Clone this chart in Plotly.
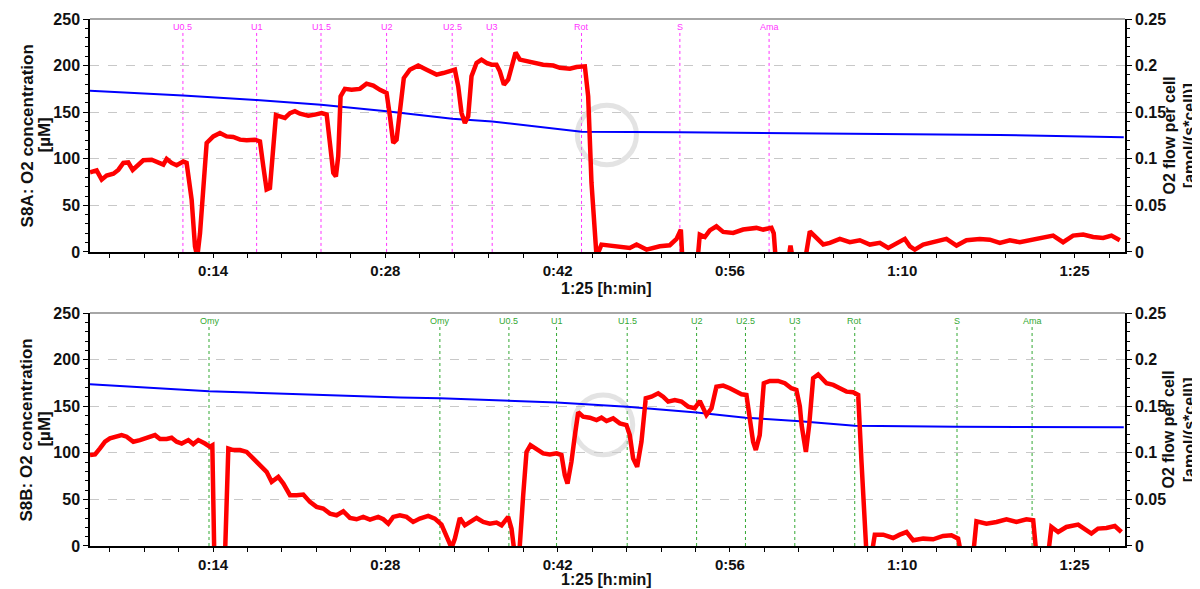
import plotly.graph_objects as go

# ---------------- data ----------------
# time in minutes
TOP_RED_T = [4.0, 4.54, 4.95, 5.35, 5.9, 6.3, 6.71, 7.11, 7.47, 7.93, 8.33, 9.01, 9.55, 9.96, 10.23, 10.63,
             11.04, 11.58, 11.85, 12.26, 12.53, 12.72, 12.94, 13.26, 13.48, 14.02, 14.56, 15.1, 15.64, 16.19,
             16.73, 17.4, 17.81, 18.08, 18.35, 18.62, 18.89, 19.11, 19.43, 19.84, 20.25, 20.65, 21.06, 21.74,
             22.28, 22.82, 23.23, 23.5, 23.77, 23.98, 24.17, 24.36, 24.71, 25.26, 25.93, 26.47, 27.02, 27.56,
             28.1, 28.37, 28.64, 28.91, 29.18, 29.5, 29.99, 30.67, 31.35, 32.16, 32.7, 33.38, 33.65, 33.92,
             34.19, 34.46, 34.73, 35.0, 35.41, 35.81, 36.22, 36.63, 37.03, 37.3, 37.63, 37.98, 38.39, 38.58,
             38.93, 39.47, 40.01, 40.82, 41.64, 42.18, 42.99, 43.53, 44.21, 44.48, 44.75, 45.02, 45.16, 45.56,
             46.78, 47.86, 48.41, 49.22, 50.3, 51.11, 51.66, 52.01, 52.14, 53.36, 53.55, 53.96, 54.36, 54.9,
             55.45, 56.26, 57.07, 58.15, 58.7, 59.37, 59.56, 59.73, 60.73, 60.92, 61.13, 62.09, 62.49, 63.03,
             63.58, 64.12, 64.93, 65.74, 66.55, 67.37, 68.18, 68.86, 69.53, 70.21, 70.62, 71.02, 71.7, 72.51,
             73.59, 74.41, 75.22, 76.3, 77.11, 77.93, 78.74, 79.55, 80.64, 81.45, 82.26, 83.07, 83.88, 84.7,
             85.51, 86.32, 87.0, 87.68]
# O2 flow per cell [amol/(s*cell)]
TOP_RED_V = [0.0855, 0.0876, 0.0776, 0.082, 0.084, 0.088, 0.0955, 0.096, 0.088, 0.0937, 0.0984, 0.099, 0.0955,
             0.0937, 0.0998, 0.0955, 0.093, 0.097, 0.0955, 0.056, 0.006, -0.005, 0.02, 0.085, 0.117, 0.124,
             0.1277, 0.124, 0.1234, 0.1205, 0.1198, 0.1205, 0.1187, 0.092, 0.067, 0.0687, 0.11, 0.147, 0.1456,
             0.1438, 0.149, 0.151, 0.1484, 0.1463, 0.1474, 0.149, 0.1474, 0.1205, 0.0848, 0.081, 0.1026, 0.167,
             0.175, 0.174, 0.175, 0.1806, 0.1785, 0.174, 0.1706, 0.1456, 0.117, 0.1205, 0.15, 0.1867, 0.1956,
             0.2, 0.1956, 0.1903, 0.192, 0.195, 0.1956, 0.1778, 0.149, 0.1384, 0.1456, 0.1885, 0.2028, 0.2064,
             0.2028, 0.201, 0.201, 0.1938, 0.1795, 0.185, 0.2028, 0.214, 0.2064, 0.2046, 0.2028, 0.201, 0.2,
             0.1976, 0.1967, 0.1985, 0.1992, 0.167, 0.074, 0.004, -0.005, 0.0079, 0.0054, 0.0043, 0.0079,
             0.0025, 0.006, 0.0072, 0.014, 0.024, -0.01, -0.01, 0.0186, 0.016, 0.0232, 0.0275, 0.0215, 0.0204,
             0.024, 0.0258, 0.024, 0.0258, 0.02, -0.01, -0.01, 0.0068, -0.01, -0.01, 0.022, 0.015, 0.008,
             0.0097, 0.014, 0.0104, 0.0125, 0.0079, 0.0097, 0.0043, 0.0097, 0.014, 0.006, 0.0025, 0.0079,
             0.0104, 0.014, 0.0068, 0.0125, 0.014, 0.0132, 0.0097, 0.0125, 0.0104, 0.0132, 0.015, 0.0175,
             0.0104, 0.0175, 0.0186, 0.016, 0.015, 0.0175, 0.0125]

TOP_BLUE_T = [4.0, 11.55, 17.54, 22.77, 28.1, 33.43, 36.68, 40.6, 43.94, 51.93, 59.18, 61.7, 69.8, 77.9, 88.0]
# O2 concentration [µM]
TOP_BLUE_V = [173, 168, 163, 158, 151, 143, 140, 134, 129, 128.5, 127.5, 127.5, 126.5, 125.5, 123]

BOT_RED_T = [4.0, 4.41, 4.81, 5.22, 5.62, 6.17, 6.57, 6.98, 7.52, 8.06, 8.6, 9.28, 9.69, 10.23, 10.63, 11.04,
             11.45, 11.99, 12.39, 12.8, 13.34, 13.75, 13.94, 14.1, 14.97, 15.24, 15.64, 16.19, 16.73, 17.27,
             17.81, 18.35, 18.76, 19.3, 19.71, 20.25, 20.79, 21.33, 21.87, 22.41, 22.95, 23.5, 24.04, 24.58,
             25.12, 25.66, 26.2, 26.75, 27.42, 27.83, 28.24, 28.64, 29.18, 29.72, 30.26, 30.8, 31.48, 32.02,
             32.56, 32.97, 33.38, 33.65, 34.05, 34.46, 34.87, 35.41, 35.95, 36.49, 37.03, 37.44, 37.98, 38.25,
             38.52, 38.87, 39.2, 39.47, 39.79, 40.28, 40.82, 41.37, 41.91, 42.31, 42.58, 42.8, 43.12, 43.4,
             43.67, 44.07, 44.61, 45.16, 45.56, 45.97, 46.51, 47.05, 47.59, 47.86, 48.13, 48.46, 48.81, 49.16,
             49.62, 50.17, 50.57, 50.98, 51.52, 52.06, 52.6, 53.14, 53.55, 54.09, 54.5, 54.9, 55.45, 55.99,
             56.53, 56.94, 57.34, 57.61, 57.88, 58.1, 58.42, 58.75, 59.24, 59.91, 60.46, 60.99, 61.4, 61.68,
             61.82, 62.17, 62.44, 62.76, 63.17, 63.85, 64.39, 64.93, 65.47, 66.01, 66.42, 66.69, 67.1, 67.5,
             67.77, 68.45, 69.26, 69.8, 70.35, 70.89, 71.7, 72.51, 73.32, 74.0, 74.54, 74.81, 75.76, 76.03,
             76.84, 77.66, 78.47, 79.28, 80.09, 80.64, 80.91, 81.85, 82.12, 82.67, 83.34, 84.29, 84.83, 85.37,
             85.91, 86.59, 87.27, 87.81]
BOT_RED_V = [0.0976, 0.0983, 0.1047, 0.1119, 0.1155, 0.1173, 0.119, 0.1173, 0.1119, 0.1137, 0.1155, 0.119,
             0.1148, 0.1148, 0.1162, 0.1119, 0.11, 0.1137, 0.1094, 0.1137, 0.11, 0.1065, 0.108, -0.01, -0.01,
             0.1047, 0.103, 0.103, 0.101, 0.094, 0.0868, 0.0796, 0.0689, 0.0742, 0.067, 0.0545, 0.0545, 0.0552,
             0.0473, 0.042, 0.0402, 0.0348, 0.033, 0.0373, 0.0301, 0.0287, 0.0312, 0.0283, 0.0312, 0.0287, 0.024,
             0.0312, 0.033, 0.0312, 0.0258, 0.0294, 0.0323, 0.0294, 0.023, 0.0115, -0.002, 0.0079, 0.0301,
             0.0222, 0.0258, 0.0301, 0.0258, 0.024, 0.0251, 0.0222, 0.0312, 0.0187, -0.01, -0.01, 0.0545, 0.101,
             0.1083, 0.104, 0.0994, 0.0983, 0.0994, 0.0976, 0.076, 0.067, 0.0904, 0.119, 0.1435, 0.1388, 0.1377,
             0.1352, 0.1377, 0.1341, 0.137, 0.1316, 0.1298, 0.119, 0.094, 0.085, 0.1119, 0.1585, 0.1603, 0.1639,
             0.1603, 0.155, 0.1567, 0.155, 0.1496, 0.1478, 0.1557, 0.1406, 0.1478, 0.171, 0.1722, 0.1693, 0.1657,
             0.1628, 0.1621, 0.137, 0.112, 0.103, 0.119, 0.1747, 0.1772, 0.1772, 0.1747, 0.1693, 0.1675, 0.15,
             0.13, 0.101, 0.13, 0.18, 0.184, 0.1747, 0.1729, 0.1693, 0.1657, 0.165, 0.1621, 0.09, -0.01, -0.01,
             0.0122, 0.0122, 0.0086, 0.0122, 0.015, 0.0061, 0.0079, 0.0072, 0.0108, 0.0115, 0.0079, -0.01, -0.01,
             0.0265, 0.024, 0.0258, 0.0287, 0.0258, 0.0287, 0.0276, -0.01, -0.01, 0.0204, 0.015, 0.0204, 0.023,
             0.0187, 0.0133, 0.0187, 0.0194, 0.0215, 0.015]

BOT_BLUE_T = [4.0, 13.67, 29.2, 32.43, 41.91, 47.65, 53.29, 57.26, 61.7, 66.14, 74.45, 80.55, 88.0]
BOT_BLUE_V = [173.5, 166, 159.5, 158.5, 154, 149.5, 143.4, 137.7, 134, 129, 128, 128, 127.4]

TOP_EVENTS = ["U0.5", "U1", "U1.5", "U2", "U2.5", "U3", "Rot", "S", "Ama"]
TOP_EVENT_T = [11.55, 17.54, 22.77, 28.1, 33.43, 36.68, 43.94, 51.93, 59.18]
BOT_EVENTS = ["Omy", "Omy", "U0.5", "U1", "U1.5", "U2", "U2.5", "U3", "Rot", "S", "Ama"]
BOT_EVENT_T = [13.67, 32.43, 38.04, 41.91, 47.65, 53.29, 57.26, 61.27, 66.14, 74.45, 80.55]

X_TICKS = [14, 28, 42, 56, 70, 84]
X_TICK_TEXT = ["0:14", "0:28", "0:42", "0:56", "1:10", "1:25"]
X_TITLE = "1:25 [h:min]"
TOP_LEFT_TITLE = ["S8A: O2 concentration", "[µM]"]
BOT_LEFT_TITLE = ["S8B: O2 concentration", "[µM]"]
RIGHT_TITLE = ["O2 flow per cell", "[amol/(s*cell)]"]

# ---------------- figure ----------------
FONT = "Liberation Sans, Arial, sans-serif"
RED = "#ff0000"
BLUE = "#0000ff"
MAGENTA = "#ff33ff"
GREEN = "#33a833"

fig = go.Figure()
fig.add_trace(go.Scatter(x=TOP_BLUE_T, y=TOP_BLUE_V, mode="lines", line=dict(color=BLUE, width=2),
                         xaxis="x", yaxis="y", showlegend=False))
fig.add_trace(go.Scatter(x=TOP_RED_T, y=TOP_RED_V, mode="lines", line=dict(color=RED, width=4.5),
                         xaxis="x", yaxis="y2", showlegend=False))
fig.add_trace(go.Scatter(x=BOT_BLUE_T, y=BOT_BLUE_V, mode="lines", line=dict(color=BLUE, width=2),
                         xaxis="x2", yaxis="y3", showlegend=False))
fig.add_trace(go.Scatter(x=BOT_RED_T, y=BOT_RED_V, mode="lines", line=dict(color=RED, width=4.5),
                         xaxis="x2", yaxis="y4", showlegend=False))

ytickfont = dict(family=FONT, size=16, color="#111", weight="bold")
xtickfont = dict(family=FONT, size=15, color="#111", weight="bold")
titlefont = dict(family=FONT, size=17, color="#111", weight="bold")
xtitlefont = dict(family=FONT, size=16, color="#111", weight="bold")
rtitlefont = dict(family=FONT, size=16, color="#111", weight="bold")


def xax(anchor):
    return dict(domain=[0, 1], anchor=anchor, range=[4.0, 88.1], tickmode="array", automargin=False,
                tickvals=X_TICKS, ticktext=X_TICK_TEXT, ticks="outside", ticklen=4, tickwidth=1,
                tickcolor="black", showline=True, linecolor="black", linewidth=1.5, showgrid=False,
                zeroline=False, tickfont=xtickfont,
                minor=dict(tickmode="linear", tick0=0, dtick=2.8, ticks="outside", ticklen=4,
                           tickcolor="black", showgrid=False))


def yleft(domain, anchor):
    return dict(domain=domain, anchor=anchor, range=[0, 250], tickmode="linear", tick0=0, dtick=50,
                automargin=False,
                ticks="outside", ticklen=5, tickcolor="black", showline=True, linecolor="black",
                linewidth=1.5, showgrid=True, gridcolor="#c8c8c8", griddash="dash", gridwidth=1,
                zeroline=False, tickfont=ytickfont,
                minor=dict(tickmode="linear", tick0=0, dtick=10, ticks="outside", ticklen=3,
                           tickcolor="black", showgrid=False))


def yright(overlay, anchor):
    return dict(overlaying=overlay, anchor=anchor, side="right", range=[0, 0.25], tickmode="linear",
                automargin=False,
                tick0=0, dtick=0.05, ticks="outside", ticklen=5, tickcolor="black", showline=True,
                linecolor="black", linewidth=1.5, showgrid=False, zeroline=False, tickfont=ytickfont,
                minor=dict(tickmode="linear", tick0=0, dtick=0.01, ticks="outside", ticklen=3,
                           tickcolor="black", showgrid=False))


TOP_DOM = [0.558, 1.0]
BOT_DOM = [0.0, 0.442]

shapes = []
annotations = []
for xref, yref, names, times, col in [("x", "y", TOP_EVENTS, TOP_EVENT_T, MAGENTA),
                                       ("x2", "y3", BOT_EVENTS, BOT_EVENT_T, GREEN)]:
    for name, t in zip(names, times):
        shapes.append(dict(type="line", xref=xref, yref=yref + " domain", x0=t, x1=t, y0=0, y1=0.94,
                           line=dict(color=col, width=1, dash="dot"), layer="below"))
        annotations.append(dict(xref=xref, yref=yref + " domain", x=t, y=0.995, yanchor="top",
                                text=name, showarrow=False,
                                font=dict(family=FONT, size=9, color=col)))
    # gray top border
    shapes.append(dict(type="line", xref=xref + " domain", yref=yref + " domain", x0=0, x1=1, y0=1, y1=1,
                       line=dict(color="#888888", width=1.5)))

# axis titles (one annotation per line for tight spacing)
for ycen, left_title in [(0.779, TOP_LEFT_TITLE), (0.221, BOT_LEFT_TITLE)]:
    for xpos, txt in zip([-0.0609, -0.0444], left_title):
        annotations.append(dict(xref="paper", yref="paper", x=xpos, y=ycen, xanchor="center",
                                yanchor="middle", textangle=-90, text=txt, showarrow=False,
                                font=titlefont))
    for xpos, txt in zip([1.0425, 1.0625], RIGHT_TITLE):
        annotations.append(dict(xref="paper", yref="paper", x=xpos, y=ycen, xanchor="center",
                                yanchor="middle", textangle=-90, text=txt, showarrow=False,
                                font=rtitlefont))
for ycen in [0.4877, -0.0645]:
    annotations.append(dict(xref="paper", yref="paper", x=0.4995, y=ycen, xanchor="center",
                            yanchor="middle", text=X_TITLE, showarrow=False, font=xtitlefont))

# faint watermark rings
shapes.append(dict(type="circle", xref="x", yref="y", x0=43.6, x1=48.4, y0=93.5, y1=157.5,
                   line=dict(color="#bbbbbb", width=5), opacity=0.4, layer="below"))
shapes.append(dict(type="circle", xref="x2", yref="y3", x0=43.3, x1=48.1, y0=98, y1=162,
                   line=dict(color="#bbbbbb", width=5), opacity=0.4, layer="below"))

# page body has an 8px margin: the figure is sized/offset so the plot sits where the reference has it
fig.update_layout(
    width=1192, height=581,
    margin=dict(l=82, r=75, t=11, b=43, autoexpand=False),
    paper_bgcolor="white", plot_bgcolor="white",
    xaxis=xax("y"),
    yaxis=yleft(TOP_DOM, "x"),
    yaxis2=yright("y", "x"),
    xaxis2=xax("y3"),
    yaxis3=yleft(BOT_DOM, "x2"),
    yaxis4=yright("y3", "x2"),
    shapes=shapes,
    annotations=annotations,
    showlegend=False,
)

fig.write_html("out.html")
